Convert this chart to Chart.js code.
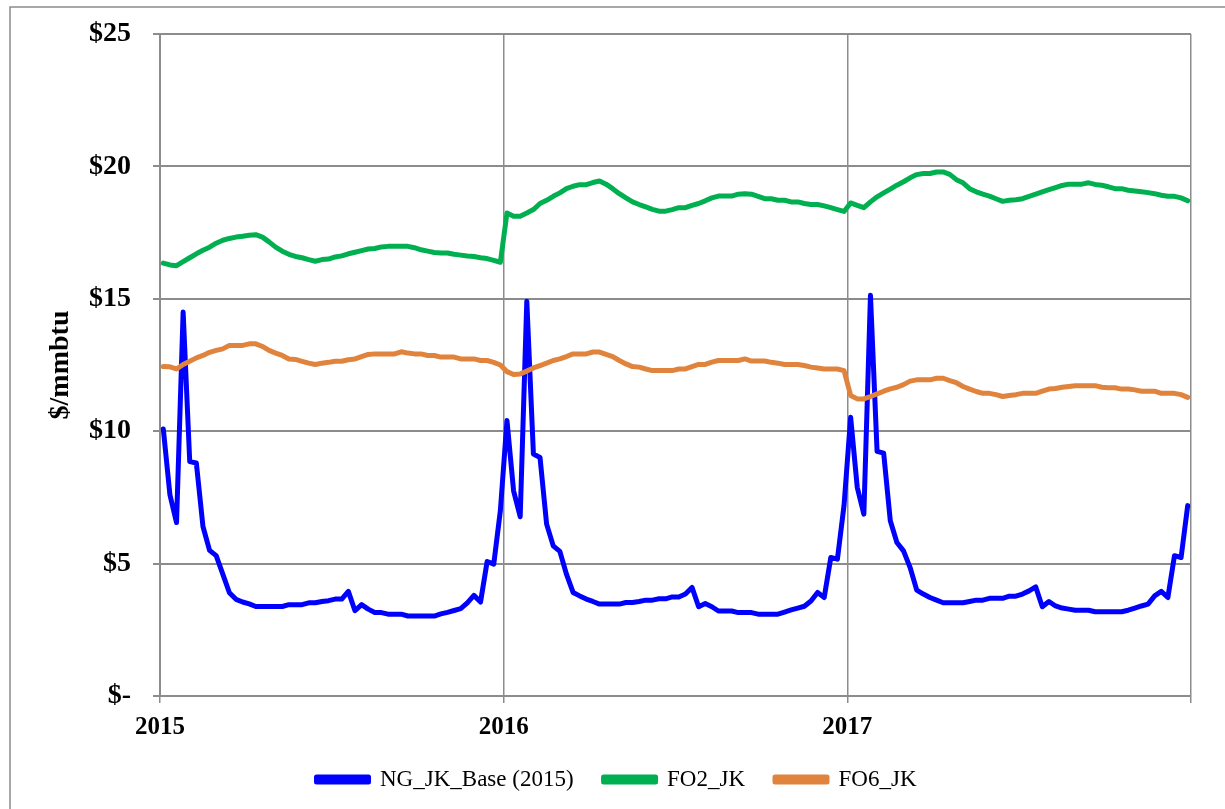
<!DOCTYPE html>
<html>
<head>
<meta charset="utf-8">
<script src="https://cdn.jsdelivr.net/npm/chart.js@4.4.1/dist/chart.umd.min.js"></script>
<style>
  html, body { margin: 0; padding: 0; background: #fff; }
  canvas { display: block; }
</style>
</head>
<body>
<canvas id="priceChart" width="1225" height="809"></canvas>
<script>
// x axis: weeks from start of 2015, one gridline per year
const yearLabels = ['2015', '2016', '2017', ''];
const yearTicks = [0, 52, 104, 156];
const priceTicks = [0, 5, 10, 15, 20, 25];
const seriesNames = ['NG_JK_Base (2015)', 'FO2_JK', 'FO6_JK'];

// weekly prices, $/mmbtu
const ng2015 = [10.08, 7.6, 6.55, 14.5, 8.85, 8.8, 6.4, 5.5, 5.3, 4.6,
    3.9, 3.65, 3.55, 3.48, 3.38, 3.38, 3.38, 3.38, 3.38, 3.45,
    3.45, 3.45, 3.52, 3.52, 3.57, 3.6, 3.66, 3.66, 3.95, 3.22,
    3.45, 3.28, 3.15, 3.15, 3.09, 3.09, 3.09, 3.02, 3.02, 3.02,
    3.02, 3.02, 3.1, 3.16, 3.23, 3.3, 3.52, 3.8, 3.55, 5.08,
    4.98, 7.0];
const ng2016 = [10.4, 7.75, 6.77, 14.91, 9.14, 9.01, 6.49, 5.67, 5.46, 4.6,
    3.91, 3.78, 3.66, 3.57, 3.47, 3.47, 3.47, 3.47, 3.53, 3.53,
    3.57, 3.62, 3.62, 3.67, 3.67, 3.74, 3.74, 3.85, 4.1, 3.37,
    3.49, 3.37, 3.21, 3.21, 3.21, 3.15, 3.15, 3.15, 3.09, 3.09,
    3.09, 3.09, 3.17, 3.25, 3.32, 3.39, 3.59, 3.91, 3.72, 5.23,
    5.17, 7.2];
const ng2017 = [10.53, 7.88, 6.87, 15.13, 9.24, 9.17, 6.62, 5.8, 5.48, 4.85,
    4.0, 3.85, 3.72, 3.62, 3.52, 3.52, 3.52, 3.52, 3.57, 3.62,
    3.62, 3.69, 3.69, 3.69, 3.77, 3.77, 3.85, 3.97, 4.12, 3.37,
    3.57, 3.4, 3.32, 3.28, 3.24, 3.24, 3.24, 3.18, 3.18, 3.18,
    3.18, 3.18, 3.24, 3.32, 3.4, 3.47, 3.78, 3.95, 3.72, 5.3,
    5.23, 7.19];

const fo2_2015 = [16.35, 16.28, 16.25, 16.4, 16.55, 16.7, 16.83, 16.95, 17.1, 17.21,
    17.28, 17.33, 17.36, 17.4, 17.42, 17.33, 17.15, 16.95, 16.8, 16.68,
    16.6, 16.55, 16.48, 16.42, 16.48, 16.5, 16.58, 16.62, 16.7, 16.76,
    16.82, 16.88, 16.9, 16.96, 16.98, 16.98, 16.98, 16.98, 16.93, 16.85,
    16.8, 16.75, 16.73, 16.73, 16.68, 16.65, 16.62, 16.6, 16.55, 16.52,
    16.45, 16.38];
const fo2_2016 = [18.24, 18.12, 18.12, 18.24, 18.37, 18.6, 18.72, 18.87, 19.0, 19.16,
    19.25, 19.31, 19.31, 19.39, 19.45, 19.33, 19.16, 18.97, 18.81, 18.66,
    18.56, 18.47, 18.38, 18.31, 18.31, 18.37, 18.44, 18.44, 18.53, 18.6,
    18.7, 18.81, 18.88, 18.88, 18.88, 18.95, 18.97, 18.95, 18.87, 18.78,
    18.78, 18.72, 18.72, 18.66, 18.66, 18.6, 18.56, 18.56, 18.51, 18.44,
    18.37, 18.3];
const fo2_2017 = [18.62, 18.53, 18.44, 18.66, 18.85, 19.0, 19.14, 19.29, 19.42, 19.57,
    19.69, 19.73, 19.73, 19.79, 19.79, 19.7, 19.5, 19.38, 19.16, 19.04,
    18.95, 18.88, 18.78, 18.68, 18.72, 18.74, 18.78, 18.87, 18.95, 19.04,
    19.12, 19.2, 19.28, 19.33, 19.33, 19.33, 19.38, 19.32, 19.29, 19.23,
    19.16, 19.16, 19.1, 19.07, 19.04, 19.01, 18.97, 18.91, 18.87, 18.87,
    18.81, 18.7];

const fo6_2015 = [12.44, 12.43, 12.35, 12.52, 12.64, 12.77, 12.86, 12.98, 13.05, 13.11,
    13.24, 13.24, 13.24, 13.3, 13.3, 13.2, 13.05, 12.95, 12.86, 12.73,
    12.71, 12.64, 12.57, 12.52, 12.57, 12.6, 12.64, 12.64, 12.7, 12.73,
    12.82, 12.9, 12.92, 12.92, 12.92, 12.92, 13.0, 12.95, 12.92, 12.92,
    12.86, 12.86, 12.8, 12.8, 12.8, 12.73, 12.73, 12.73, 12.67, 12.67,
    12.6, 12.5];
const fo6_2016 = [12.25, 12.14, 12.16, 12.27, 12.39, 12.48, 12.57, 12.67, 12.73, 12.82,
    12.92, 12.92, 12.92, 12.99, 12.99, 12.9, 12.82, 12.67, 12.54, 12.44,
    12.42, 12.35, 12.29, 12.29, 12.29, 12.29, 12.35, 12.35, 12.44, 12.52,
    12.52, 12.61, 12.67, 12.67, 12.67, 12.67, 12.73, 12.65, 12.65, 12.65,
    12.6, 12.57, 12.52, 12.52, 12.52, 12.48, 12.42, 12.39, 12.35, 12.35,
    12.35, 12.29];
const fo6_2017 = [11.35, 11.22, 11.22, 11.31, 11.41, 11.51, 11.6, 11.66, 11.76, 11.89,
    11.94, 11.94, 11.94, 12.0, 12.0, 11.91, 11.83, 11.69, 11.59, 11.5,
    11.43, 11.43, 11.38, 11.31, 11.35, 11.38, 11.43, 11.43, 11.43, 11.51,
    11.59, 11.61, 11.66, 11.69, 11.72, 11.72, 11.72, 11.72, 11.66, 11.64,
    11.64, 11.59, 11.59, 11.56, 11.51, 11.51, 11.51, 11.43, 11.43, 11.43,
    11.38, 11.28];

const ngJk = [...ng2015, ...ng2016, ...ng2017];
const fo2Jk = [...fo2_2015, ...fo2_2016, ...fo2_2017];
const fo6Jk = [...fo6_2015, ...fo6_2016, ...fo6_2017];

const GRID = '#8c8c8c';
const SERIF = "'Liberation Serif', 'Times New Roman', serif";

// points sit mid-week
function toPoints(arr) {
    return arr.map((v, i) => ({ x: i + 0.5, y: v }));
}

function makeLine(label, values, color, order) {
    return {
        label: label,
        data: toPoints(values),
        borderColor: color,
        backgroundColor: color,
        borderWidth: 5,
        pointRadius: 0,
        tension: 0,
        borderJoinStyle: 'round',
        borderCapStyle: 'round',
        order: order
    };
}

// thin grey frame around the whole chart (cut off at right and bottom)
const framePlugin = {
    id: 'frame',
    beforeDraw(chart) {
        const ctx = chart.ctx;
        ctx.save();
        ctx.fillStyle = '#fff';
        ctx.fillRect(0, 0, chart.width, chart.height);
        ctx.strokeStyle = GRID;
        ctx.lineWidth = 1.5;
        ctx.beginPath();
        ctx.moveTo(10, chart.height);
        ctx.lineTo(10, 7);
        ctx.lineTo(chart.width, 7);
        ctx.stroke();
        ctx.restore();
    }
};

new Chart(document.getElementById('priceChart'), {
    type: 'line',
    data: {
        datasets: [
            // later series drawn on top, like the original
            makeLine(seriesNames[0], ngJk, '#0000ff', 3),
            makeLine(seriesNames[1], fo2Jk, '#00b050', 2),
            makeLine(seriesNames[2], fo6Jk, '#e0833c', 1)
        ]
    },
    options: {
        responsive: false,
        animation: false,
        devicePixelRatio: 1,
        layout: { padding: { left: 42, right: 34, top: 34, bottom: 8 } },
        plugins: {
            tooltip: { enabled: false },
            legend: {
                position: 'bottom',
                labels: {
                    color: '#000',
                    font: { family: SERIF, size: 23 },
                    boxWidth: 52,
                    boxHeight: 5,
                    padding: 30,
                    sort: (a, b) => a.datasetIndex - b.datasetIndex
                }
            }
        },
        scales: {
            x: {
                type: 'linear',
                min: 0,
                max: 156,
                afterBuildTicks: scale => {
                    scale.ticks = yearTicks.map(v => ({ value: v }));
                },
                afterFit: scale => { scale.height = 42; },
                ticks: {
                    color: '#000',
                    font: { family: SERIF, size: 25, weight: 'bold' },
                    padding: 10,
                    maxRotation: 0,
                    callback: value => yearLabels[yearTicks.indexOf(value)]
                },
                grid: { color: GRID, lineWidth: 1.5, tickLength: 7 },
                border: { color: GRID, width: 2 }
            },
            y: {
                min: 0,
                max: 25,
                afterBuildTicks: scale => {
                    scale.ticks = priceTicks.map(v => ({ value: v }));
                },
                afterFit: scale => {
                    scale.width = 118;
                    // tick padding is only meant horizontally here
                    scale.paddingTop = 0;
                    scale.paddingBottom = 0;
                },
                ticks: {
                    color: '#000',
                    font: { family: SERIF, size: 28, weight: 'bold' },
                    padding: 22,
                    callback: value => value === 0 ? '$-' : '$' + value
                },
                title: {
                    display: true,
                    text: '$/mmbtu',
                    color: '#000',
                    font: { family: SERIF, size: 28, weight: 'bold' },
                    padding: { top: 2, bottom: 4 }
                },
                grid: { color: GRID, lineWidth: 2, tickLength: 7 },
                border: { color: GRID, width: 2 }
            }
        }
    },
    plugins: [framePlugin]
});
</script>
</body>
</html>
